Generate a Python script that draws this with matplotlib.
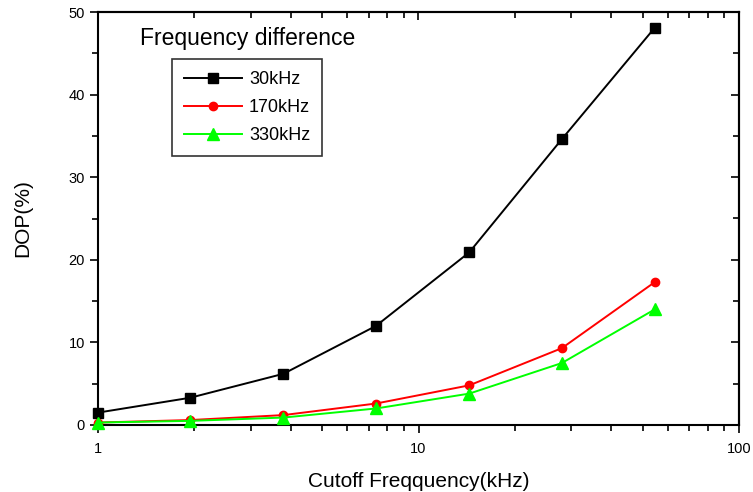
import matplotlib
matplotlib.use("Agg")
import matplotlib.pyplot as plt
from matplotlib.ticker import MultipleLocator, LogLocator, NullFormatter, FixedLocator

plt.rcParams['font.family'] = ['Liberation Sans', 'DejaVu Sans']

# cutoff frequency (kHz) and DOP (%) per frequency difference
cutoff = [1, 1.94, 3.79, 7.37, 14.4, 28.0, 54.6]
dop_30 = [1.5, 3.3, 6.2, 12.0, 20.9, 34.6, 48.1]
dop_170 = [0.3, 0.6, 1.2, 2.6, 4.8, 9.3, 17.3]
dop_330 = [0.3, 0.5, 0.9, 2.0, 3.8, 7.5, 14.0]
labels = ['30kHz', '170kHz', '330kHz']

W, H = 753, 492
fig = plt.figure(figsize=(W / 100, H / 100), dpi=100)
ax = fig.add_axes([98 / W, 1 - 425 / H, (739 - 98) / W, (425 - 12) / H])

ax.plot(cutoff, dop_30, color='black', marker='s', markersize=7, lw=1.4,
        label=labels[0], clip_on=False, zorder=3)
ax.plot(cutoff, dop_170, color='#ff0000', marker='o', markersize=6, lw=1.4,
        label=labels[1], clip_on=False, zorder=4)
ax.plot(cutoff, dop_330, color='#00ff00', marker='^', markersize=8, lw=1.4,
        label=labels[2], clip_on=False, zorder=5)

ax.set_xscale('log')
ax.set_xlim(1, 100)
ax.set_ylim(0, 50)
ax.xaxis.set_major_locator(FixedLocator([1, 10, 100]))
ax.xaxis.set_minor_locator(LogLocator(base=10, subs=range(2, 10)))
ax.xaxis.set_minor_formatter(NullFormatter())
ax.set_xticklabels(['1', '10', '100'])
ax.yaxis.set_major_locator(MultipleLocator(10))
ax.yaxis.set_minor_locator(MultipleLocator(5))

for s in ax.spines.values():
    s.set_linewidth(1.5)

ax.tick_params(which='both', direction='out', top=False, right=False, labelsize=10.5, width=1.2)
ax.tick_params(which='major', length=6)
ax.tick_params(which='minor', length=4)
ax.tick_params(axis='x', pad=6)

# inward ticks on the top and right edges
axt = ax.secondary_xaxis('top')
axt.set_xticks([1, 10, 100])
axt.xaxis.set_minor_locator(LogLocator(base=10, subs=range(2, 10)))
axt.tick_params(which='both', direction='in', labeltop=False, width=1.2)
axt.tick_params(which='major', length=6)
axt.tick_params(which='minor', length=4)
axt.spines['top'].set_linewidth(1.5)
axr = ax.secondary_yaxis('right')
axr.yaxis.set_major_locator(MultipleLocator(10))
axr.yaxis.set_minor_locator(MultipleLocator(5))
axr.tick_params(which='both', direction='in', labelright=False, width=1.2)
axr.tick_params(which='major', length=6)
axr.tick_params(which='minor', length=4)
axr.spines['right'].set_linewidth(1.5)

ax.set_xlabel('Cutoff Freqquency(kHz)', fontsize=15, labelpad=12)
ax.set_ylabel('DOP(%)', fontsize=15, labelpad=26)

fig.text(140 / W, 1 - 38 / H, 'Frequency difference', fontsize=16.5, va='center', ha='left')
leg = ax.legend(loc='upper left', bbox_to_anchor=(172 / W, 1 - 59 / H),
                bbox_transform=fig.transFigure, borderaxespad=0, fancybox=False,
                edgecolor='black', fontsize=13, handlelength=3.2, labelspacing=0.62,
                borderpad=0.66, handletextpad=0.4)
leg.get_frame().set_linewidth(1.2)

fig.savefig('out.png', dpi=100)
